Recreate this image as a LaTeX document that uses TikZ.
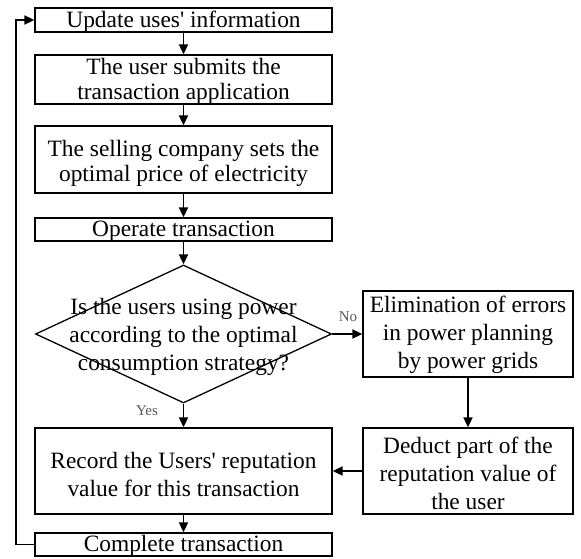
\documentclass[tikz,border=0pt]{standalone}
\usepackage{fontspec}
\setmainfont{Liberation Serif}
\usetikzlibrary{shapes.geometric,arrows.meta}
\begin{document}
\begin{tikzpicture}[x=1pt,y=-1pt,
  box/.style={draw,line width=1.3pt,inner sep=0pt,minimum width=297pt},
  rbox/.style={draw,line width=1.3pt,inner sep=0pt,minimum width=210pt},
  txt/.style={inner sep=0pt,align=center,font=\fontsize{23.4}{28}\selectfont},
  txtb/.style={inner sep=0pt,align=center,font=\fontsize{23.4}{25}\selectfont},
  lbl/.style={inner sep=0pt,text=black!65,font=\fontsize{15}{18}\selectfont},
  arr/.style={line width=1.8pt,-{Triangle[length=10pt,width=9pt]}}]
\useasboundingbox (0,0) rectangle (581,559);
% boxes
\node[box,minimum height=24pt] (b1) at (183.5,20) {};
\node[box,minimum height=49pt] (b2) at (183.5,79.5) {};
\node[box,minimum height=67pt] (b3) at (183.5,159.5) {};
\node[box,minimum height=23pt] (b4) at (183.5,229.5) {};
\node[draw,shape=diamond,line width=1.3pt,inner sep=0pt,minimum width=296pt,minimum height=138pt] (d) at (183.5,334) {};
\node[rbox,minimum height=86pt] (e) at (468,334) {};
\node[rbox,minimum height=86pt] (f) at (468,471) {};
\node[box,minimum height=86pt] (r) at (183.5,471) {};
\node[box,minimum height=23pt] (c) at (183.5,544.5) {};
% texts
\node[txt] (t1) at ([yshift=-1.5pt]b1.center) {Update uses\textquotesingle{} information};
\node[txtb] (t2) at ([yshift=-2pt]b2.center) {The user submits the\\transaction application};
\node[txtb] (t3) at ([yshift=-4pt]b3.center) {The selling company sets the\\optimal price of electricity};
\node[txt] (t4) at ([yshift=-1.5pt]b4.center) {Operate transaction};
\node[txt] (td) at ([yshift=-3pt]d.center) {Is the users using power\\according to the optimal\\consumption strategy?};
\node[txt] (te) at ([yshift=-1pt]e.center) {Elimination of errors\\in power planning\\by power grids};
\node[txt] (tf) at ([yshift=-2pt]f.center) {Deduct part of the\\reputation value of\\the user};
\node[txt] (tr) at ([yshift=-3pt]r.center) {Record the Users\textquotesingle{} reputation\\value for this transaction};
\node[txt] (tc) at ([yshift=-1.5pt]c.center) {Complete transaction};
% labels
\node[lbl] (no) at (348,317) {No};
\node[lbl] (yes) at (147,411) {Yes};
% connectors
\draw[arr] (b1) -- (b2);
\draw[arr] (b2) -- (b3);
\draw[arr] (b3) -- (b4);
\draw[arr] (b4) -- (d.north);
\draw[arr] (d.east) -- (e.west);
\draw[arr] (e) -- (f);
\draw[arr] (f) -- (r);
\draw[arr] (d.south) -- (r.north);
\draw[arr] (r) -- (c);
\coordinate (lp) at (16,0);
\draw[arr] (c.west) -- (c.west -| lp) -- (b1.west -| lp) -- (b1.west);
\end{tikzpicture}
\end{document}
